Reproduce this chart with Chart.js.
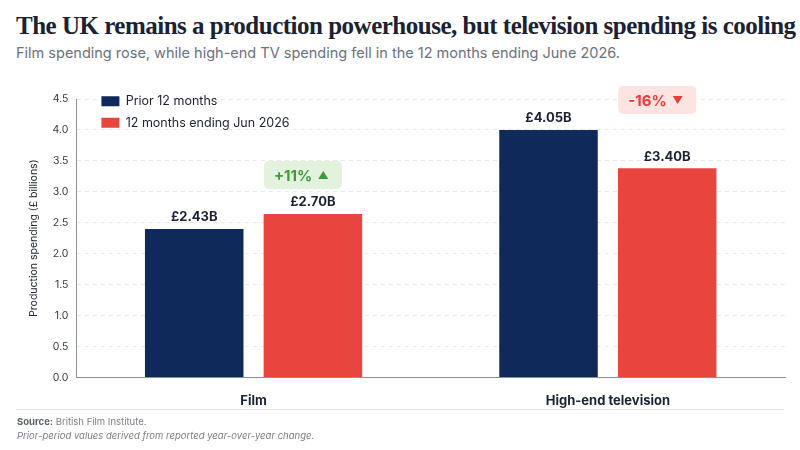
<!DOCTYPE html>
<html><head><meta charset="utf-8">
<script src="https://cdn.jsdelivr.net/npm/chart.js@4"></script>
<style>
body{margin:0;width:800px;height:450px;background:#fff;font-family:Inter,"Noto Sans",sans-serif;overflow:hidden;position:relative}
#title{position:absolute;left:16px;top:12px;font-family:"Liberation Serif","DejaVu Serif",serif;font-weight:bold;font-size:25px;color:#1b2233;letter-spacing:-0.5px;white-space:nowrap}
#sub{position:absolute;left:16px;top:44px;font-size:14.5px;color:#6a7280}
#wrap{position:absolute;left:0;top:77px;width:800px;height:340px}
#rule{position:absolute;left:16px;right:16px;top:409px;border-top:1px solid #e3e5ea}
#foot{position:absolute;left:17px;top:415px;font-size:9.5px;color:#7a808a;line-height:14px}
</style></head><body>
<div id="title">The UK remains a production powerhouse, but television spending is cooling</div>
<div id="sub">Film spending rose, while high-end TV spending fell in the 12 months ending June 2026.</div>
<div id="wrap"><canvas id="c"></canvas></div>
<div id="rule"></div>
<div id="foot"><b style="color:#5a606a">Source:</b> British Film Institute.<br><i>Prior-period values derived from reported year-over-year change.</i></div>
<script>
// ---- data ----
const categories = ["Film", "High-end television"];
const priorValues = [2.40, 4.00];
const currentValues = [2.64, 3.38];
const priorLabels = ["£2.43B", "£4.05B"];
const currentLabels = ["£2.70B", "£3.40B"];
const changeLabels = ["+11%", "-16%"];
const seriesNames = ["Prior 12 months", "12 months ending Jun 2026"];

const NAVY = "#0f2a5a", RED = "#e8453f";

// value labels + change badges
const annotate = {
  id: "annotate",
  afterDatasetsDraw(chart) {
    const ctx = chart.ctx;
    ctx.save();
    ctx.font = "bold 13px Inter, sans-serif";
    ctx.fillStyle = "#1b2233";
    ctx.textAlign = "center";
    ctx.textBaseline = "bottom";
    const texts = [priorLabels, currentLabels];
    chart.data.datasets.forEach((ds, di) => {
      chart.getDatasetMeta(di).data.forEach((bar, i) => {
        ctx.fillText(texts[di][i], bar.x, bar.y - 5);
      });
    });
    // badges over current bars
    chart.getDatasetMeta(1).data.forEach((bar, i) => {
      const up = changeLabels[i].startsWith("+");
      const w = 78, h = 28;
      const x = bar.x - w / 2 - 10;
      const yTop = up ? bar.y - 53 : chart.chartArea.top - 13;
      ctx.fillStyle = up ? "#e3f2dd" : "#fde3e1";
      ctx.beginPath();
      ctx.roundRect(x, yTop, w, h, 5);
      ctx.fill();
      const col = up ? "#3c9a3c" : "#e0413a";
      ctx.fillStyle = col;
      ctx.font = "bold 15px Inter, sans-serif";
      ctx.textAlign = "left";
      ctx.textBaseline = "middle";
      const tx = x + 10;
      ctx.fillText(changeLabels[i], tx, yTop + h / 2 + 1);
      const tw = ctx.measureText(changeLabels[i]).width;
      const ax = tx + tw + 11, ay = yTop + h / 2;
      ctx.beginPath();
      if (up) { ctx.moveTo(ax - 5, ay + 4); ctx.lineTo(ax + 5, ay + 4); ctx.lineTo(ax, ay - 4); }
      else { ctx.moveTo(ax - 5, ay - 4); ctx.lineTo(ax + 5, ay - 4); ctx.lineTo(ax, ay + 4); }
      ctx.fill();
    });
    ctx.restore();
  }
};

new Chart(document.getElementById("c"), {
  type: "bar",
  data: {
    labels: categories,
    datasets: [
      { label: seriesNames[0], data: priorValues, backgroundColor: NAVY },
      { label: seriesNames[1], data: currentValues, backgroundColor: RED }
    ]
  },
  options: {
    responsive: true,
    maintainAspectRatio: false,
    animation: false,
    barPercentage: 0.83,
    categoryPercentage: 0.67,
    layout: { padding: { left: 24, right: 15, top: 22, bottom: 0 } },
    scales: {
      x: {
        grid: { display: false },
        border: { color: "#8a8f99" },
        ticks: { color: "#1b2233", font: { family: "Inter", size: 13, weight: "bold" }, padding: 8 }
      },
      y: {
        min: 0, max: 4.5,
        ticks: { stepSize: 0.5, color: "#333a45", font: { family: "Inter", size: 10.5 }, padding: 8,
                 callback: v => v.toFixed(1) },
        grid: { color: "#e6e8ec", drawTicks: false },
        border: { color: "#8a8f99", dash: [4, 4] },
        title: { display: true, text: "Production spending (£ billions)", color: "#1b2233",
                 font: { family: "Inter", size: 10.5 } }
      }
    },
    plugins: {
      legend: {
        position: "chartArea",
        align: "start",
        labels: { boxWidth: 18, boxHeight: 10, color: "#1b2233", font: { family: "Inter", size: 12.5 }, padding: 9 }
      },
      tooltip: { enabled: false }
    }
  },
  plugins: [annotate, {
    id: "legendShift",
    afterLayout(chart) {
      chart.legend.left += 16;
      chart.legend.top += 9;
      chart.legend.legendHitBoxes.forEach(b => { b.left += 16; b.top += 9; });
    }
  }]
});
</script>
</body></html>
